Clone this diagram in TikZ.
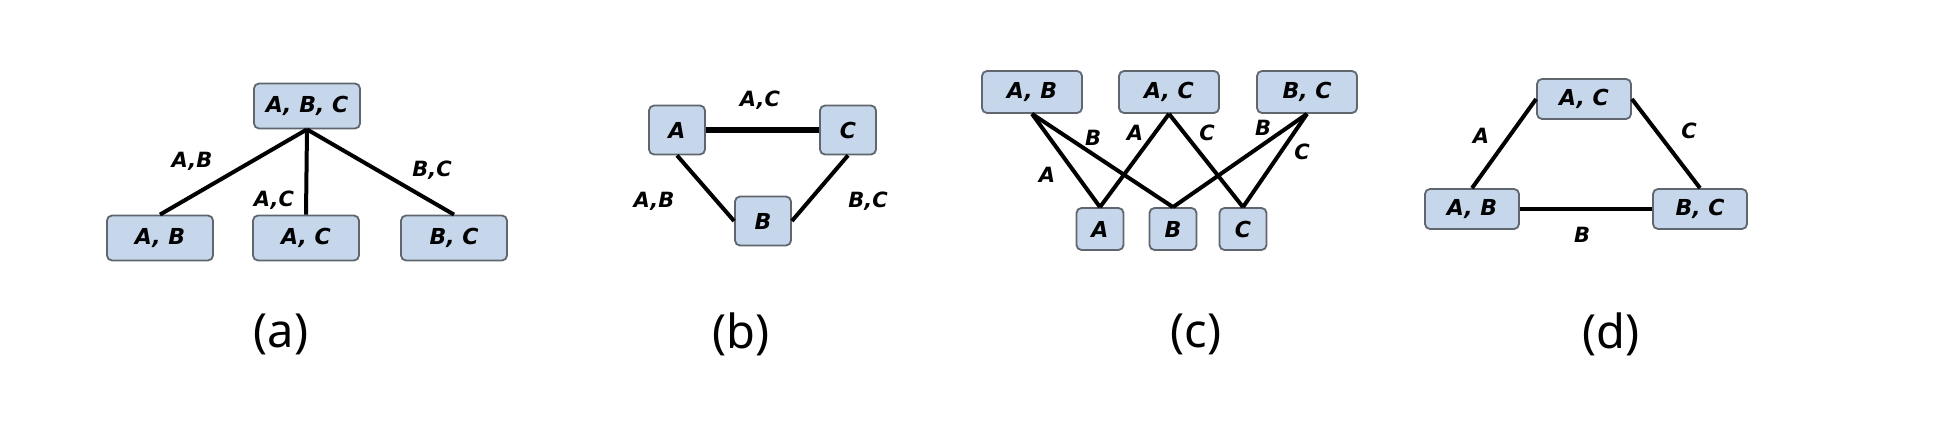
\documentclass[tikz,border=0pt]{standalone}
\usepackage{fontspec}
\setmainfont{Noto Sans}
\newfontfamily\boxfont{DejaVu Sans}
\definecolor{boxfill}{RGB}{198,214,235}
\definecolor{boxline}{RGB}{95,102,110}
\begin{document}
\begin{tikzpicture}[x=0.5pt,y=-0.5pt,
  box/.style={draw=boxline, fill=boxfill, line width=0.9pt, rounded corners=2.5pt, inner sep=0pt,
    font=\boxfont\bfseries\itshape\fontsize{11}{12}\selectfont},
  wideA/.style={box, minimum width=53pt, minimum height=22.5pt},
  wideC/.style={box, minimum width=50pt, minimum height=21pt},
  wideD/.style={box, minimum width=47pt, minimum height=20pt},
  sqB/.style={box, minimum width=28pt, minimum height=24.5pt},
  sqC/.style={box, minimum width=23.5pt, minimum height=21pt},
  lbl/.style={font=\boxfont\bfseries\itshape\fontsize{10.5}{12}\selectfont, inner sep=0pt},
  subcap/.style={font=\fontsize{23.5}{28}\selectfont, inner sep=0pt},
  link/.style={line width=2pt, black},
  thicklink/.style={line width=2.8pt, black}]
\useasboundingbox (0,0) rectangle (1950,422);

% (a)
\node[wideA] (aABC) at (307,106) {A, B, C};
\node[wideA] (aAB) at (160,238) {A, B};
\node[wideA] (aAC) at (306,238) {A, C};
\node[wideA] (aBC) at (454,238) {B, C};
\draw[link] (aABC.south) -- (aAB.north);
\draw[link] (aABC.south) -- (aAC.north);
\draw[link] (aABC.south) -- (aBC.north);
\node[lbl] (laAB) at (192,161) {A,B};
\node[lbl] (laAC) at (274,200) {A,C};
\node[lbl] (laBC) at (432,170) {B,C};
\node[subcap] (capa) at (281,334) {(a)};

% (b)
\node[sqB] (bA) at (677,130) {A};
\node[sqB] (bC) at (848,130) {C};
\node[sqB] (bB) at (763,221) {B};
\draw[thicklink] (bA.east) -- (bC.west);
\draw[link] (bA.south) -- (bB.west);
\draw[link] (bC.south) -- (bB.east);
\node[lbl] (lbAC) at (760,100) {A,C};
\node[lbl] (lbAB) at (654,201) {A,B};
\node[lbl] (lbBC) at (868,201) {B,C};
\node[subcap] (capb) at (741,334) {(b)};

% (c)
\node[wideC] (cAB) at (1032,92) {A, B};
\node[wideC] (cAC) at (1169,92) {A, C};
\node[wideC] (cBC) at (1307,92) {B, C};
\node[sqC] (cA) at (1100,229) {A};
\node[sqC] (cB) at (1173,229) {B};
\node[sqC] (cC) at (1243,229) {C};
\draw[link] (cAB.south) -- (cA.north);
\draw[link] (cAB.south) -- (cB.north);
\draw[link] (cAC.south) -- (cA.north);
\draw[link] (cAC.south) -- (cC.north);
\draw[link] (cBC.south) -- (cB.north);
\draw[link] (cBC.south) -- (cC.north);
\node[lbl] (lc1) at (1047,175) {A};
\node[lbl] (lc2) at (1093,138) {B};
\node[lbl] (lc3) at (1135,133) {A};
\node[lbl] (lc4) at (1207,133) {C};
\node[lbl] (lc5) at (1263,128) {B};
\node[lbl] (lc6) at (1302,152) {C};
\node[subcap] (capc) at (1196,334) {(c)};

% (d)
\node[wideD] (dAC) at (1584,99) {A, C};
\node[wideD] (dAB) at (1472,209) {A, B};
\node[wideD] (dBC) at (1700,209) {B, C};
\draw[link] (dAC.west) -- (dAB.north);
\draw[link] (dAC.east) -- (dBC.north);
\draw[link] (dAB.east) -- (dBC.west);
\node[lbl] (ldA) at (1481,136) {A};
\node[lbl] (ldC) at (1689,131) {C};
\node[lbl] (ldB) at (1582,235) {B};
\node[subcap] (capd) at (1611,334) {(d)};
\end{tikzpicture}
\end{document}
